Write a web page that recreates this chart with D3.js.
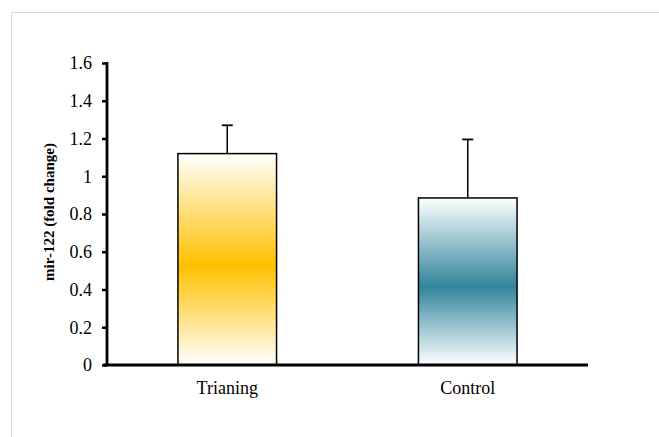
<!DOCTYPE html>
<html>
<head>
<meta charset="utf-8">
<script src="https://cdn.jsdelivr.net/npm/d3@7"></script>
<style>
  html, body { margin: 0; padding: 0; background: #fff; }
  svg { display: block; }
  text { font-family: "Liberation Serif", "Times New Roman", serif; }
</style>
</head>
<body>
<svg id="chart" width="659" height="437"></svg>
<script>
const categories = ["Trianing", "Control"];
const values = [1.12, 0.885];
const errors = [0.15, 0.31];
const yTicks = [0, 0.2, 0.4, 0.6, 0.8, 1, 1.2, 1.4, 1.6];
const barColors = ["#FFC000", "#31859C"];
const yLabel = "mir-122 (fold change)";

const svg = d3.select("#chart");
const W = 659, H = 437;

// outer light border
svg.append("rect")
  .attr("x", 11.5).attr("y", 12.5)
  .attr("width", W + 10).attr("height", H + 10)
  .attr("fill", "#fff").attr("stroke", "#d9d9d9").attr("stroke-width", 1);

const x = d3.scaleBand().domain(categories).range([107, 588]).paddingInner(0.59).paddingOuter(0.295);
const y = d3.scaleLinear().domain([0, 1.6]).range([365, 63]);

const defs = svg.append("defs");
barColors.forEach((c, i) => {
  const g = defs.append("linearGradient").attr("id", "grad" + i)
    .attr("x1", 0).attr("y1", 0).attr("x2", 0).attr("y2", 1);
  g.append("stop").attr("offset", "0%").attr("stop-color", "#ffffff");
  g.append("stop").attr("offset", "53%").attr("stop-color", c);
  g.append("stop").attr("offset", "100%").attr("stop-color", "#ffffff");
});

// bars
svg.selectAll("rect.bar").data(categories).enter().append("rect")
  .attr("class", "bar")
  .attr("x", d => x(d))
  .attr("width", x.bandwidth())
  .attr("y", (d, i) => y(values[i]))
  .attr("height", (d, i) => y(0) - y(values[i]))
  .attr("fill", (d, i) => `url(#grad${i})`)
  .attr("stroke", "#000").attr("stroke-width", 1.5);

// error bars
const eb = svg.append("g");
categories.forEach((d, i) => {
  const cx = x(d) + x.bandwidth() / 2;
  eb.append("line").attr("x1", cx).attr("x2", cx)
    .attr("y1", y(values[i])).attr("y2", y(values[i] + errors[i]))
    .attr("stroke", "#000").attr("stroke-width", 1.5);
  eb.append("line").attr("x1", cx - 5.5).attr("x2", cx + 5.5)
    .attr("y1", y(values[i] + errors[i])).attr("y2", y(values[i] + errors[i]))
    .attr("stroke", "#000").attr("stroke-width", 1.8);
});

// y axis
const yAxis = svg.append("g").attr("transform", "translate(107,0)")
  .call(d3.axisLeft(y).tickValues(yTicks).tickFormat(d => d3.format("")(d)).tickSize(5).tickPadding(10));
yAxis.select(".domain").attr("stroke-width", 2.8).attr("d", `M0,${y(1.6)-1}V${y(0)+1}`);
yAxis.selectAll(".tick line").attr("stroke-width", 2.5);
yAxis.selectAll(".tick text").attr("font-size", 18).attr("fill", "#000")
  .attr("font-family", "Liberation Serif, Times New Roman, serif");

// x axis
const xAxis = svg.append("g").attr("transform", "translate(0,365)")
  .call(d3.axisBottom(x).tickSize(0).tickPadding(16));
xAxis.select(".domain").attr("stroke-width", 2.8).attr("d", "M103,0H588");
xAxis.selectAll(".tick text").attr("font-size", 18).attr("fill", "#000")
  .attr("font-family", "Liberation Serif, Times New Roman, serif");

// y label
svg.append("text")
  .attr("transform", "translate(54,212) rotate(-90)")
  .attr("text-anchor", "middle")
  .attr("font-size", 15).attr("font-weight", "bold")
  .text(yLabel);
</script>
</body>
</html>
